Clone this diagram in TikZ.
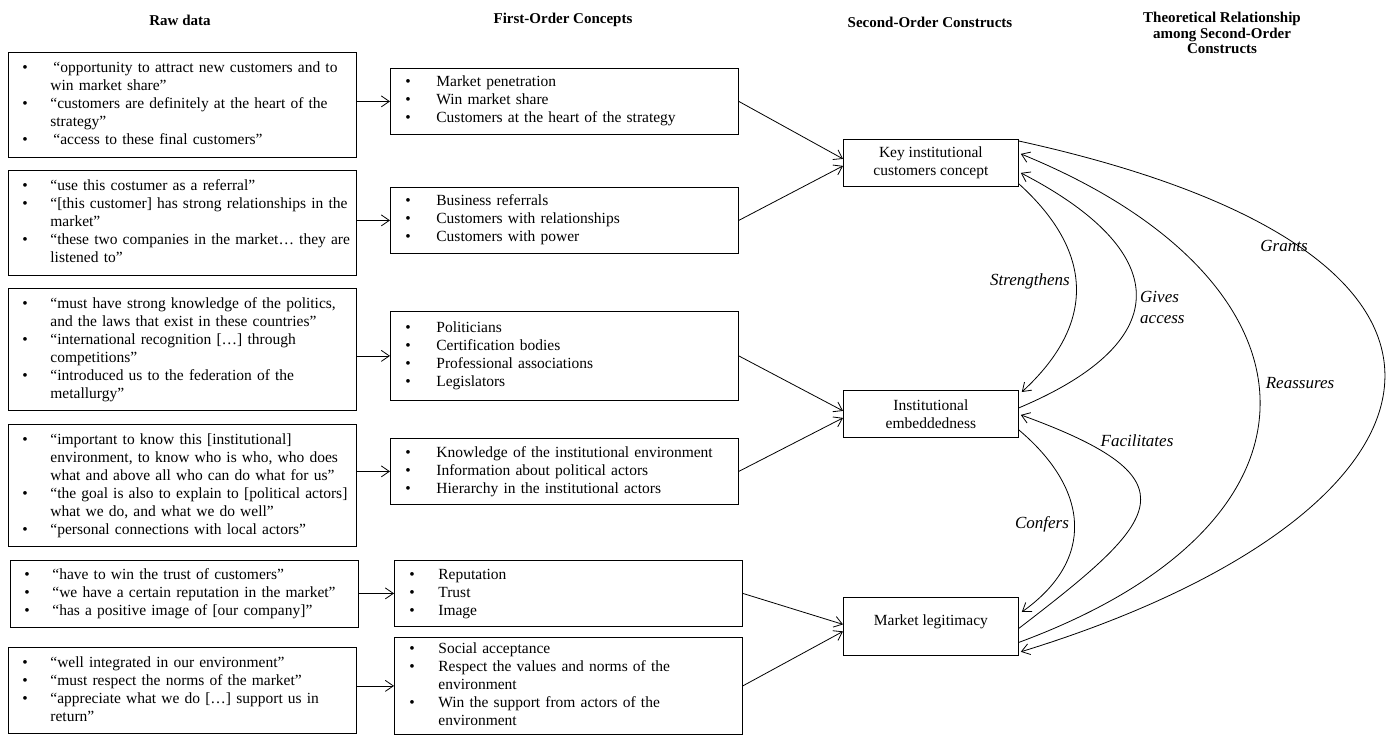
\documentclass[tikz,border=0pt]{standalone}
\usepackage{fontspec}
\setmainfont{Liberation Serif}
\usetikzlibrary{arrows.meta}
\newcommand{\blist}[2][28pt]{\begin{tabular}{@{}p{#1}@{}l@{}}#2\end{tabular}}
\newcommand{\bodyfont}{\fontsize{15.5}{18}\selectfont}
\newcommand{\headfont}{\fontsize{15}{15.5}\selectfont\bfseries}
\newcommand{\labfont}{\fontsize{17}{21}\selectfont\itshape}
\newcommand{\bu}{\textbullet}
\begin{document}
\begin{tikzpicture}[x=1pt,y=-1pt,
  rawbox/.style={draw, line width=0.8pt, anchor=north west, align=left, inner xsep=14pt, inner ysep=0pt, minimum width=348pt, text width=320pt, font=\bodyfont},
  conbox/.style={rawbox, inner xsep=15pt, text width=318pt},
  secbox/.style={draw, line width=0.8pt, anchor=north west, align=center, minimum width=175pt, inner sep=0pt, font=\bodyfont},
  head/.style={align=center, font=\headfont, inner sep=0pt},
  lab/.style={font=\labfont, inner sep=0pt},
  arr/.style={line width=0.8pt, -{Straight Barb[length=8pt,width=11pt]}}
]
\useasboundingbox (0,0) rectangle (1392,735);
\fill[white] (0,0) rectangle (1392,735);

% headers
\node[head] (h1) at (180,20) {Raw data};
\node[head] (h2) at (563,20) {First-Order Concepts};
\node[head] (h3) at (930,22) {Second-Order Constructs};
\node[head] (h4) at (1222,33) {Theoretical Relationship\\among Second-Order\\Constructs};

% raw data boxes
\node[rawbox, minimum height=105pt] (r1) at (8,52) {\blist{%
\bu & \hspace{3pt}“opportunity to attract new customers and to\\
 & win market share”\\
\bu & “customers are definitely at the heart of the\\
 & strategy”\\
\bu & \hspace{3pt}“access to these final customers”}};
\node[rawbox, minimum height=105pt] (r2) at (8,170) {\blist{%
\bu & “use this costumer as a referral”\\
\bu & “[this customer] has strong relationships in the\\
 & market”\\
\bu & “these two companies in the market… they are\\
 & listened to”}};
\node[rawbox, minimum height=122pt] (r3) at (8,288) {\blist{%
\bu & “must have strong knowledge of the politics,\\
 & and the laws that exist in these countries”\\
\bu & “international recognition […] through\\
 & competitions”\\
\bu & “introduced us to the federation of the\\
 & metallurgy”}};
\node[rawbox, minimum height=122pt] (r4) at (8,424) {\blist{%
\bu & “important to know this [institutional]\\
 & environment, to know who is who, who does\\
 & what and above all who can do what for us”\\
\bu & “the goal is also to explain to [political actors]\\
 & what we do, and what we do well”\\
\bu & “personal connections with local actors”}};
\node[rawbox, minimum height=67pt] (r5) at (10,560) {\blist{%
\bu & “have to win the trust of customers”\\
\bu & “we have a certain reputation in the market”\\
\bu & “has a positive image of [our company]”}};
\node[rawbox, minimum height=86pt] (r6) at (8,647) {\blist{%
\bu & “well integrated in our environment”\\
\bu & “must respect the norms of the market”\\
\bu & “appreciate what we do […] support us in\\
 & return”}};

% first-order boxes
\node[conbox, minimum height=66pt] (a) at (390,68) {\blist[31pt]{%
\bu & Market penetration\\
\bu & Win market share\\
\bu & Customers at the heart of the strategy}};
\node[conbox, minimum height=66pt] (b) at (390,187) {\blist[31pt]{%
\bu & Business referrals\\
\bu & Customers with relationships\\
\bu & Customers with power}};
\node[conbox, minimum height=89pt] (c) at (390,311) {\blist[31pt]{%
\bu & Politicians\\
\bu & Certification bodies\\
\bu & Professional associations\\
\bu & Legislators}};
\node[conbox, minimum height=66pt] (d) at (390,438) {\blist[31pt]{%
\bu & Knowledge of the institutional environment\\
\bu & Information about political actors\\
\bu & Hierarchy in the institutional actors}};
\node[conbox, minimum height=66pt] (e) at (394,560) {\blist[29pt]{%
\bu & Reputation\\
\bu & Trust\\
\bu & Image}};
\node[conbox, minimum height=97pt] (f) at (394,637) {\blist[29pt]{%
\bu & Social acceptance\\
\bu & Respect the values and norms of the\\
 & environment\\
\bu & Win the support from actors of the\\
 & environment}};

% second-order boxes
\node[secbox, minimum height=47pt] (k) at (843,139) {Key institutional\\customers concept};
\node[secbox, minimum height=47pt] (i) at (843,390) {Institutional\\embeddedness};
\node[secbox, minimum height=58pt] (m) at (843,597) {\raisebox{12pt}{Market legitimacy}};

% raw -> first
\draw[arr] (r1.east |- a.west) -- (a.west);
\draw[arr] (r2.east |- b.west) -- (b.west);
\draw[arr] (r3.east |- c.west) -- (c.west);
\draw[arr] (r4.east |- d.west) -- (d.west);
\draw[arr] (r5.east |- e.west) -- (e.west);
\draw[arr] (r6.east |- f.west) -- (f.west);

% first -> second
\draw[arr] (a.east) -- ([yshift=4pt]k.west);
\draw[arr] (b.east) -- ([yshift=-3pt]k.west);
\draw[arr] (c.east) -- ([yshift=3pt]i.west);
\draw[arr] (d.east) -- ([yshift=-4pt]i.west);
\draw[arr] (e.east) -- ([yshift=2pt]m.west);
\draw[arr] (f.east) -- ([yshift=-5pt]m.west);

% relationships
\coordinate (s1) at ([yshift=3pt]k.south east);
\draw[arr] (s1) .. controls (1092,250) and (1098,322) .. ([xshift=3pt,yshift=-2pt]i.north east);
\coordinate (g1) at ([yshift=6pt]i.east);
\draw[arr] (g1) .. controls (1180,340) and (1170,250) .. ([xshift=2pt,yshift=-10pt]k.east);
\coordinate (re1) at ([yshift=-16pt]m.east);
\draw[arr] (re1) .. controls (1350,520) and (1330,280) .. ([xshift=2pt,yshift=9pt]k.east);
\coordinate (gr1) at ([yshift=-2pt]k.north east);
\draw[arr] (gr1) .. controls (1560,260) and (1450,520) .. ([xshift=2pt,yshift=4pt]m.south east);
\coordinate (f1) at ([yshift=-2pt]m.east);
\draw[arr] (f1) .. controls (1160,520) and (1200,480) .. ([xshift=2pt,yshift=-1pt]i.east);
\coordinate (c1) at ([yshift=-16pt]i.east);
\draw[arr] (c1) .. controls (1090,490) and (1095,560) .. ([xshift=3pt,yshift=-15pt]m.north east);

% labels
\node[lab] (l1) at (1030,281) {Strengthens};
\node[lab, anchor=west, align=left] (l2) at (1140,307) {Gives\\access};
\node[lab] (l3) at (1284,246) {Grants};
\node[lab] (l4) at (1300,383) {Reassures};
\node[lab] (l5) at (1137,441) {Facilitates};
\node[lab] (l6) at (1042,524) {Confers};
\end{tikzpicture}
\end{document}
